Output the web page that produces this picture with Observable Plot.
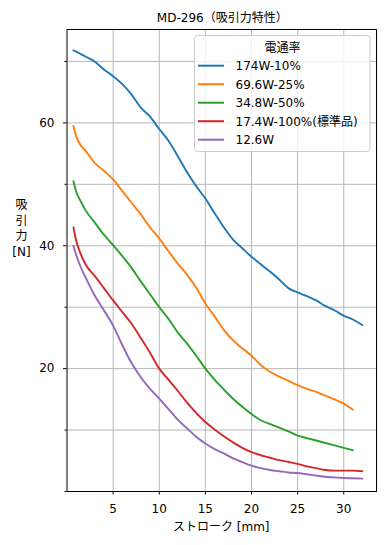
<!DOCTYPE html>
<html>
<head>
<meta charset="utf-8">
<script src="https://cdn.jsdelivr.net/npm/d3@7"></script>
<script src="https://cdn.jsdelivr.net/npm/@observablehq/plot@0.6"></script>
<style>
  html, body { margin: 0; padding: 0; background: #fff; }
  #chart svg { display: block; }
</style>
</head>
<body>
<div id="chart"></div>
<script>
// ---- data ----
const titleText = "MD-296（吸引力特性）";
const xLabel = "ストローク [mm]";
const yLabelLines = ["吸", "引", "力", "[N]"];
const legendTitle = "電通率";
const seriesNames = ["174W-10%", "69.6W-25%", "34.8W-50%", "17.4W-100%(標準品)", "12.6W"];
const seriesColors = ["#1f77b4", "#ff7f0e", "#2ca02c", "#d62728", "#9467bd"];

const stroke = [0.7, 1, 1.5, 2, 3, 4, 5, 6, 7, 8, 9, 10, 11, 12, 13, 14, 15, 16, 17, 18, 19, 20, 21, 22, 23, 24, 25, 26, 27, 28, 29, 30, 31, 32];

const force174 = [71.8, 71.6, 71.2, 70.8, 70.0, 68.7, 67.6, 66.3, 64.6, 62.5, 61.0, 59.0, 57.1, 54.6, 52.0, 49.7, 47.7, 45.3, 43.0, 41.0, 39.6, 38.2, 37.0, 35.8, 34.5, 33.1, 32.4, 31.8, 31.1, 30.2, 29.5, 28.6, 28.0, 27.1];
const force69 = [59.5, 57.8, 56.3, 55.5, 53.5, 52.2, 50.8, 48.9, 47.0, 45.1, 43.0, 41.2, 39.1, 37.1, 35.3, 33.2, 30.6, 28.5, 26.3, 24.6, 23.3, 22.1, 20.6, 19.5, 18.7, 18.0, 17.3, 16.7, 16.2, 15.6, 15.0, 14.3, 13.3];
const force34 = [50.5, 48.8, 47.2, 45.8, 43.8, 41.8, 40.1, 38.3, 36.4, 34.2, 32.1, 30.0, 28.1, 25.9, 24.1, 22.1, 20.0, 18.2, 16.6, 15.1, 13.8, 12.6, 11.6, 11.0, 10.4, 9.8, 9.1, 8.7, 8.3, 7.9, 7.5, 7.1, 6.7];
const force17 = [43.0, 40.8, 38.6, 37.0, 35.1, 33.1, 31.1, 29.2, 27.3, 25.0, 22.6, 20.0, 18.2, 16.4, 14.5, 12.8, 11.3, 10.1, 9.0, 8.0, 7.1, 6.4, 5.9, 5.5, 5.1, 4.8, 4.5, 4.1, 3.8, 3.5, 3.4, 3.4, 3.4, 3.3];
const force12 = [40.0, 38.5, 36.5, 34.9, 31.9, 29.5, 27.0, 23.8, 20.9, 18.6, 16.7, 15.1, 13.4, 11.7, 10.3, 8.9, 7.8, 6.9, 6.2, 5.4, 4.8, 4.2, 3.8, 3.5, 3.3, 3.1, 3.0, 2.8, 2.6, 2.4, 2.3, 2.2, 2.15, 2.1];

const xTicks = [5, 10, 15, 20, 25, 30];
const yMajor = [20, 40, 60];
const yMinor = [0, 10, 30, 50, 70];
const yGrid = [0, 10, 20, 30, 40, 50, 60, 70];

// ---- table built from the arrays ----
const allForces = [force174, force69, force34, force17, force12];
const rows = [];
allForces.forEach((vals, i) => {
  vals.forEach((v, j) => rows.push({x: stroke[j], y: v, series: seriesNames[i]}));
});

const FONT = "'DejaVu Sans', 'Noto Sans CJK JP', sans-serif";
const W = 385, H = 545;
const mL = 66.5, mR = 9, mT = 29, mB = 54;

const chart = Plot.plot({
  width: W,
  height: H,
  marginLeft: mL, marginRight: mR, marginTop: mT, marginBottom: mB,
  style: {fontFamily: FONT, fontSize: "12px", background: "#fff", color: "#000"},
  x: {domain: [0, 33.55]},
  y: {domain: [0, 75.2]},
  color: {domain: seriesNames, range: seriesColors},
  marks: [
    Plot.gridX(xTicks, {stroke: "#b0b0b0", strokeOpacity: 1, strokeWidth: 0.9}),
    Plot.gridY(yGrid, {stroke: "#b0b0b0", strokeOpacity: 1, strokeWidth: 0.9}),
    Plot.line(rows, {x: "x", y: "y", z: "series", stroke: "series", strokeWidth: 1.9, curve: "monotone-x"}),
    Plot.frame({stroke: "#000", strokeWidth: 1}),
    Plot.axisX(xTicks, {tickSize: 3.5, tickPadding: 9, label: null, fontSize: 12}),
    Plot.axisY(yMajor, {tickSize: 3.5, tickPadding: 9, label: null, fontSize: 12}),
    Plot.axisY(yMinor, {tickSize: 2, tickFormat: () => "", label: null})
  ]
});

document.getElementById("chart").appendChild(chart);

// ---- title, axis labels, legend ----
const svg = d3.select(chart);
const plotCx = (mL + (W - mR)) / 2;

function addText(sel, x, y, anchor, txt) {
  return sel.append("text")
    .attr("x", x).attr("y", y)
    .attr("text-anchor", anchor)
    .style("font-family", FONT).style("font-size", "12px").attr("fill", "#000")
    .text(txt);
}

addText(svg, plotCx + 1, 21.5, "middle", titleText);
addText(svg, plotCx, 531, "middle", xLabel);

const yl = svg.append("text")
  .attr("text-anchor", "middle")
  .style("font-family", FONT).style("font-size", "12px").attr("fill", "#000");
yLabelLines.forEach((t, i) => {
  yl.append("tspan").attr("x", 21.5).attr("y", 209 + i * 15.6).text(t);
});

// legend
const lg = svg.append("g");
lg.append("rect")
  .attr("x", 194.5).attr("y", 35.5).attr("width", 175.5).attr("height", 116)
  .attr("rx", 3).attr("fill", "#fff").attr("fill-opacity", 0.8)
  .attr("stroke", "#cccccc").attr("stroke-width", 1);
addText(lg, 282.5, 52, "middle", legendTitle);
seriesNames.forEach((name, i) => {
  const cy = 65.7 + i * 18.5;
  lg.append("line")
    .attr("x1", 198).attr("x2", 224).attr("y1", cy).attr("y2", cy)
    .attr("stroke", seriesColors[i]).attr("stroke-width", 2);
  addText(lg, 235.5, cy + 4.3, "start", name);
});
</script>
</body>
</html>
